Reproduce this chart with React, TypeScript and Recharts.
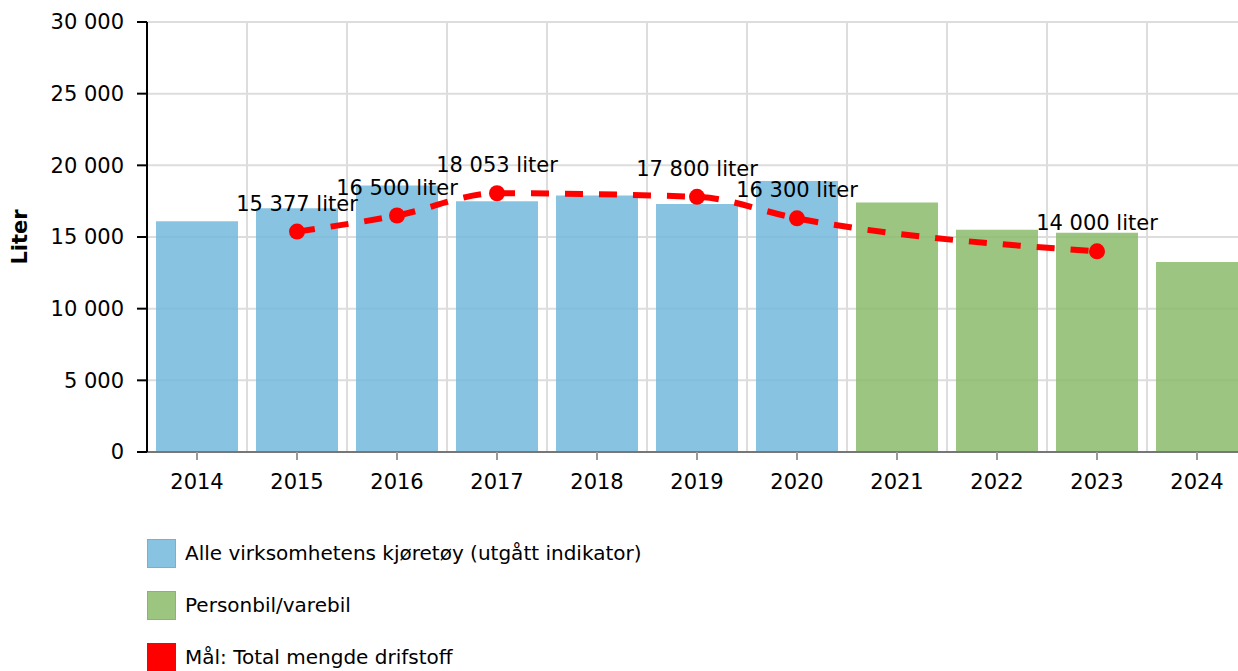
import React from "react";
import {
  ComposedChart,
  Bar,
  Line,
  XAxis,
  YAxis,
  CartesianGrid,
  LabelList,
  Label,
} from "recharts";

const years = ["2014", "2015", "2016", "2017", "2018", "2019", "2020", "2021", "2022", "2023", "2024"];
const alleKjoretoy = [16100, 17000, 18600, 17500, 17900, 17300, 18900, null, null, null, null];
const personbil = [null, null, null, null, null, null, null, 17400, 15500, 15300, 13250];
const maal = [null, 15377, 16500, 18053, null, 17800, 16300, null, null, 14000, null];
const yTicks = [0, 5000, 10000, 15000, 20000, 25000, 30000];

const legendItems = [
  { label: "Alle virksomhetens kjøretøy (utgått indikator)", fill: "#88c3e2", border: "#6db4dc" },
  { label: "Personbil/varebil", fill: "#9cc580", border: "#86b86a" },
  { label: "Mål: Total mengde drifstoff", fill: "#ff0000", border: "#ff0000" },
];

const data = years.map((year, i) => ({
  year,
  alle: alleKjoretoy[i],
  personbil: personbil[i],
  maal: maal[i],
}));

const FONT = "'DejaVu Sans', Verdana, sans-serif";

const fmt = (v: number) => String(v).replace(/\B(?=(\d{3})+(?!\d))/g, " ");

function PointLabel(props: any) {
  const { x, y, value } = props;
  if (value == null || x == null || y == null) return null;
  return (
    <text x={x} y={y - 21} textAnchor="middle" fontSize={21} fontFamily={FONT} fill="#000">
      {fmt(value)} liter
    </text>
  );
}

// vertical grid lines sit on the category boundaries, not on the ticks
const boundaryLines = (props: any) => {
  const ofs = props?.offset;
  if (!ofs) return [];
  const step = ofs.width / years.length;
  return years.map((_, i) => ofs.left + i * step);
};

export default function App() {
  return (
    <div
      style={{
        position: "absolute",
        left: 0,
        top: 0,
        width: 1238,
        height: 671,
        overflow: "hidden",
        background: "#fff",
        fontFamily: FONT,
      }}
    >
      <ComposedChart
        width={1260}
        height={502}
        data={data}
        barCategoryGap="9%"
        margin={{ top: 22, right: 13, left: 0, bottom: 0 }}
      >
        <CartesianGrid
          stroke="#dddddd"
          strokeWidth={2}
          verticalCoordinatesGenerator={boundaryLines}
        />
        <XAxis
          dataKey="year"
          height={50}
          tickSize={8}
          tickMargin={14}
          axisLine={{ stroke: "#777", strokeWidth: 2 }}
          tickLine={{ stroke: "#999", strokeWidth: 2 }}
          tick={{ fontSize: 21, fill: "#000", fontFamily: FONT }}
          interval={0}
        />
        <YAxis
          width={147}
          domain={[0, 30000]}
          ticks={yTicks}
          tickFormatter={fmt}
          tickSize={10}
          tickMargin={13}
          axisLine={{ stroke: "#000", strokeWidth: 2 }}
          tickLine={{ stroke: "#000", strokeWidth: 2 }}
          tick={{ fontSize: 21, fill: "#000", fontFamily: FONT }}
        >
          <Label
            value="Liter"
            angle={-90}
            position="insideLeft"
            offset={20}
            style={{ fontSize: 21, fontWeight: "bold", fill: "#000", fontFamily: FONT, textAnchor: "middle" }}
          />
        </YAxis>
        <Bar dataKey="alle" stackId="a" fill="#73b8dd" fillOpacity={0.85} isAnimationActive={false} />
        <Bar dataKey="personbil" stackId="a" fill="#8abb6a" fillOpacity={0.85} isAnimationActive={false} />
        <Line
          dataKey="maal"
          type="monotone"
          connectNulls
          stroke="#ff0000"
          strokeWidth={6}
          strokeDasharray="18 16"
          dot={{ r: 8, fill: "#ff0000", stroke: "none" }}
          activeDot={false}
          isAnimationActive={false}
        >
          <LabelList dataKey="maal" content={<PointLabel />} />
        </Line>
      </ComposedChart>
      <div style={{ position: "absolute", left: 147, top: 539 }}>
        {legendItems.map((item) => (
          <div key={item.label} style={{ display: "flex", alignItems: "center", height: 28, marginBottom: 24 }}>
            <div
              style={{
                width: 27,
                height: 27,
                background: item.fill,
                border: `1px solid ${item.border}`,
                marginRight: 9,
              }}
            />
            <span style={{ fontSize: 20, color: "#000" }}>{item.label}</span>
          </div>
        ))}
      </div>
    </div>
  );
}
